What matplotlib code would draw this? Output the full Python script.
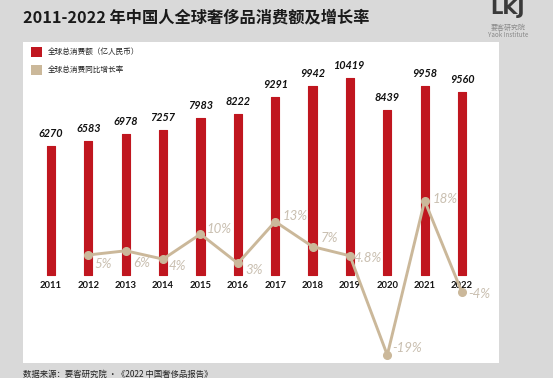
import numpy as np
import matplotlib.pyplot as plt
from matplotlib.patches import Rectangle

plt.rcParams['font.family'] = ['Noto Sans CJK SC', 'DejaVu Sans']

years = [2011, 2012, 2013, 2014, 2015, 2016, 2017, 2018, 2019, 2020, 2021, 2022]
spend = [6270, 6583, 6978, 7257, 7983, 8222, 9291, 9942, 10419, 8439, 9958, 9560]
growth_years = [2012, 2013, 2014, 2015, 2016, 2017, 2018, 2019, 2020, 2021, 2022]
growth = [5, 6, 4, 10, 3, 13, 7, 4.8, -19, 18, -4]
growth_labels = ['5%', '6%', '4%', '10%', '3%', '13%', '7%', '4.8%', '-19%', '18%', '-4%']

red = '#c0161f'
tan = '#cbb89a'
bg = '#d9d9d9'

W, H = 553, 378
fig = plt.figure(figsize=(W / 100, H / 100), dpi=100, facecolor=bg)

# white panel
fig.patches.append(Rectangle((23 / W, 1 - 363 / H), 476 / W, 321 / H,
                             transform=fig.transFigure, facecolor='white',
                             edgecolor='none', zorder=-5))

ax = fig.add_axes([32.3 / W, 1 - 360 / H, 448.4 / W, 300 / H])
ax.set_facecolor('none')
ax2 = ax.twinx()

# bars (base sits on the 0% line of the growth axis)
base = -1600
ax.bar(years, np.array(spend) - base, bottom=base, width=0.22, color=red,
       edgecolor=red, linewidth=0.8, joinstyle='round', zorder=2)
for x, v in zip(years, spend):
    ax.annotate(str(v), (x, v), xytext=(0, 7), textcoords='offset pixels',
                ha='center', va='bottom', fontsize=7.8, fontweight='bold',
                fontstyle='italic', family=['Lato', 'DejaVu Sans'], color='#111111')
ax.set_xlim(2010.5, 2022.5)
ax.set_ylim(-6785, 11519)

# growth line
ax2.plot(growth_years, growth, color=tan, linewidth=2.1, marker='o',
         markersize=5.5, zorder=3)
offsets = [(6, -9), (7, -12), (6, -7), (6, 5), (8, -7), (7, 6), (8, 9), (4, -2),
           (5, 7), (8, 2), (6, -2)]
for x, v, lab, off in zip(growth_years, growth, growth_labels, offsets):
    ax2.annotate(lab, (x, v), xytext=off, textcoords='offset pixels',
                 ha='left', va='center', fontsize=9.5, fontstyle='italic',
                 family=['Lato', 'DejaVu Sans'], color='#c9bfb0')
ax2.set_ylim(-20.19, 51.75)

for a in (ax, ax2):
    for s in a.spines.values():
        s.set_visible(False)
    a.set_yticks([])
ax.spines['bottom'].set_position(('data', base))
ax.set_xticks(years)
ax.set_xticklabels([str(y) for y in years], fontsize=6.8, fontweight='bold',
                   family=['Lato', 'DejaVu Sans'], color='#151515')
ax.tick_params(axis='x', length=0, pad=4)

# title
fig.text(23 / W, 1 - 17 / H, '2011-2022 年中国人全球奢侈品消费额及增长率',
         fontsize=11.7, fontweight='bold', va='center', ha='left', color='#1a1a1a')

# logo text
fig.text(508 / W, 1 - 28 / H, '要客研究院', fontsize=5, color='#8a8a8a',
         ha='center', va='center')
fig.text(508 / W, 1 - 35 / H, 'Yaok Institute', fontsize=4.5, color='#8a8a8a',
         ha='center', va='center')
fig.text(508 / W, 1 - 9 / H, 'LKJ', fontsize=14, fontweight='bold', color='#3a3a3a',
         ha='center', va='center', family=['DejaVu Sans'])

# legend
fig.patches.append(Rectangle((31 / W, 1 - 57 / H), 11 / W, 10 / H,
                             transform=fig.transFigure, facecolor=red, edgecolor='none'))
fig.patches.append(Rectangle((31 / W, 1 - 75 / H), 11 / W, 10 / H,
                             transform=fig.transFigure, facecolor=tan, edgecolor='none'))
fig.text(48 / W, 1 - 52 / H, '全球总消费额（亿人民币）', fontsize=5.5, va='center',
         color='#222222')
fig.text(48 / W, 1 - 70 / H, '全球总消费同比增长率', fontsize=5.5, va='center',
         color='#222222')

# source
fig.text(23 / W, 1 - 374 / H, '数据来源：要客研究院 ·《2022 中国奢侈品报告》',
         fontsize=6, va='center', color='#222222')

plt.savefig('out.png', dpi=100, facecolor=bg)
